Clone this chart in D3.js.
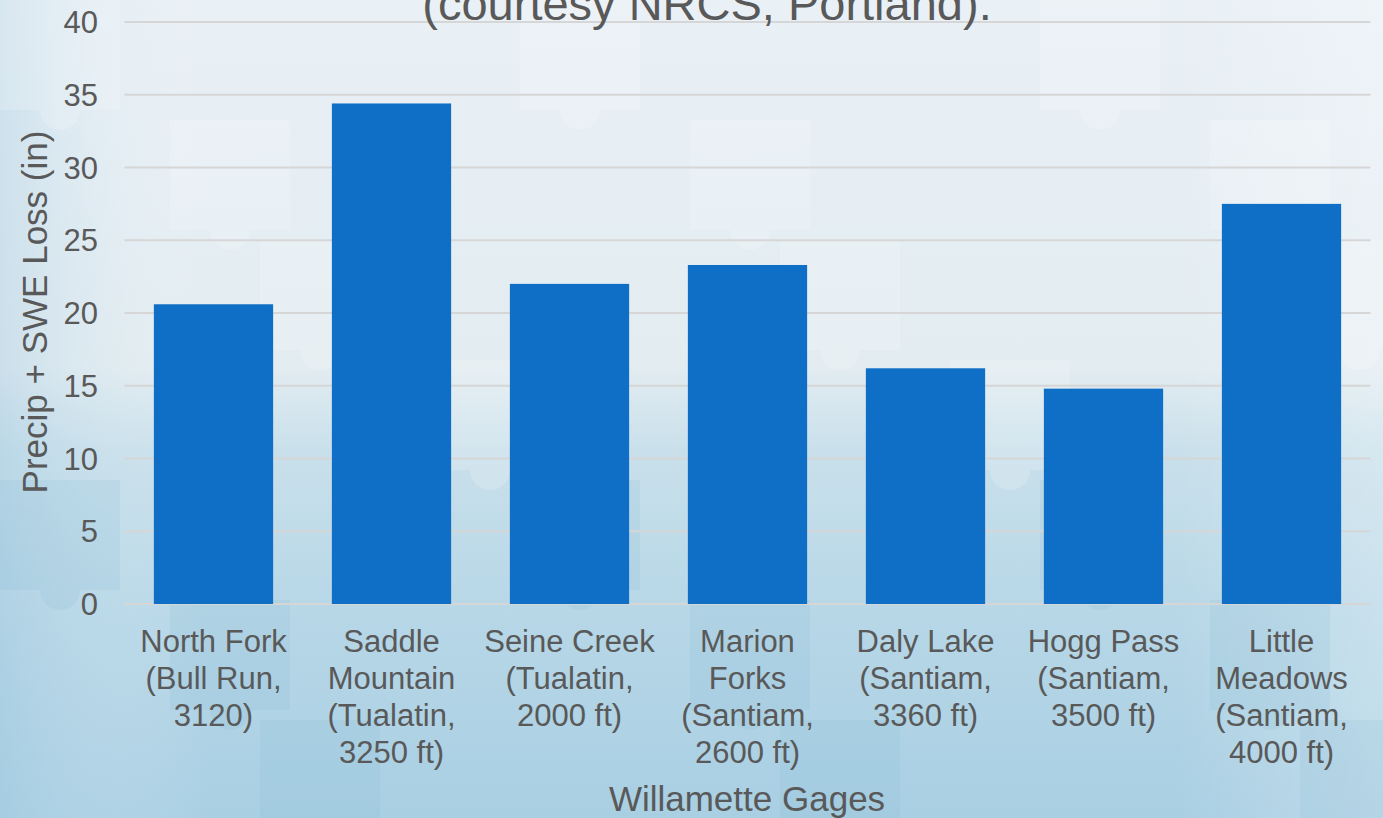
<!DOCTYPE html>
<html>
<head>
<meta charset="utf-8">
<script src="https://cdn.jsdelivr.net/npm/d3@7"></script>
<style>
  html, body { margin: 0; padding: 0; overflow: hidden; }
  svg { display: block; font-family: "Liberation Sans", Arial, sans-serif; }
</style>
</head>
<body>
<svg id="chart" width="1383" height="818"></svg>
<script>
const categories = [
  ["North Fork", "(Bull Run,", "3120)"],
  ["Saddle", "Mountain", "(Tualatin,", "3250 ft)"],
  ["Seine Creek", "(Tualatin,", "2000 ft)"],
  ["Marion", "Forks", "(Santiam,", "2600 ft)"],
  ["Daly Lake", "(Santiam,", "3360 ft)"],
  ["Hogg Pass", "(Santiam,", "3500 ft)"],
  ["Little", "Meadows", "(Santiam,", "4000 ft)"]
];
const values = [20.6, 34.4, 22.0, 23.3, 16.2, 14.8, 27.5];
const yTicks = [0, 5, 10, 15, 20, 25, 30, 35, 40];
const titleText = "(courtesy NRCS, Portland).";
const xTitle = "Willamette Gages";
const yTitle = "Precip + SWE Loss (in)";

const W = 1383, H = 818;
const svg = d3.select("#chart");
const defs = svg.append("defs");
const grad = defs.append("linearGradient").attr("id", "bg").attr("x1", 0).attr("y1", 0).attr("x2", 0).attr("y2", 1);
[[0, "#e9f0f6"], [0.45, "#e2ecf1"], [0.55, "#c9e0eb"], [0.75, "#b7d7e7"], [1, "#a9cfe3"]]
  .forEach(([o, c]) => grad.append("stop").attr("offset", o).attr("stop-color", c));
const gradH = defs.append("linearGradient").attr("id", "bgh").attr("x1", 0).attr("y1", 0).attr("x2", 1).attr("y2", 0);
[[0, "#9fc8df", 0.35], [0.15, "#ffffff", 0], [0.85, "#ffffff", 0], [1, "#ffffff", 0.25]]
  .forEach(([o, c, op]) => gradH.append("stop").attr("offset", o).attr("stop-color", c).attr("stop-opacity", op));

svg.append("rect").attr("width", W).attr("height", H).attr("fill", "url(#bg)");
svg.append("rect").attr("width", W).attr("height", H).attr("fill", "url(#bgh)");

// faint puzzle tiles
const tiles = [];
for (let i = 0; i < 11; i++) for (let j = 0; j < 7; j++) tiles.push([i, j]);
const tg = svg.append("g").attr("opacity", 0.18);
tiles.forEach(([i, j]) => {
  if ((i * 3 + j * 5) % 4 !== 0) return;
  const x = i * 130 + (j % 2) * 40, y = j * 120;
  tg.append("rect").attr("x", x).attr("y", y).attr("width", 120).attr("height", 110)
    .attr("fill", j > 3 ? "#8bbdd6" : "#ffffff");
  tg.append("circle").attr("cx", x + 60).attr("cy", y + 110).attr("r", 20)
    .attr("fill", j > 3 ? "#8bbdd6" : "#ffffff");
});

const x = d3.scaleBand().domain(d3.range(categories.length)).range([124.5, 1370.5]).paddingInner(0.33).paddingOuter(0.165);
const y = d3.scaleLinear().domain([0, 40]).range([604, 22]);

// gridlines
svg.append("g").selectAll("line").data(yTicks).join("line")
  .attr("x1", 124.5).attr("x2", 1370.5)
  .attr("y1", d => y(d)).attr("y2", d => y(d))
  .attr("stroke", "#d6d6d6").attr("stroke-width", 2);

// y tick labels
svg.append("g").selectAll("text").data(yTicks).join("text")
  .attr("x", 98).attr("y", d => y(d)).attr("dy", "0.36em")
  .attr("text-anchor", "end").attr("font-size", 31).attr("fill", "#595959")
  .text(d => d);

// bars
svg.append("g").selectAll("rect").data(values).join("rect")
  .attr("x", (d, i) => x(i)).attr("width", x.bandwidth())
  .attr("y", d => y(d)).attr("height", d => y(0) - y(d))
  .attr("fill", "#0f6ec6");

// category labels
const cg = svg.append("g");
categories.forEach((lines, i) => {
  const t = cg.append("text").attr("text-anchor", "middle").attr("font-size", 31).attr("fill", "#595959");
  lines.forEach((ln, k) => {
    t.append("tspan").attr("x", x(i) + x.bandwidth() / 2).attr("y", 652 + k * 37).text(ln);
  });
});

// axis titles
svg.append("text").attr("x", 747).attr("y", 811).attr("text-anchor", "middle")
  .attr("font-size", 35).attr("fill", "#595959").text(xTitle);
svg.append("text").attr("transform", "translate(47,312) rotate(-90)").attr("text-anchor", "middle")
  .attr("font-size", 35).attr("fill", "#595959").text(yTitle);

// title (cut off at top)
svg.append("text").attr("x", 707).attr("y", 20).attr("text-anchor", "middle")
  .attr("font-size", 47).attr("fill", "#595959").text(titleText);
</script>
</body>
</html>
